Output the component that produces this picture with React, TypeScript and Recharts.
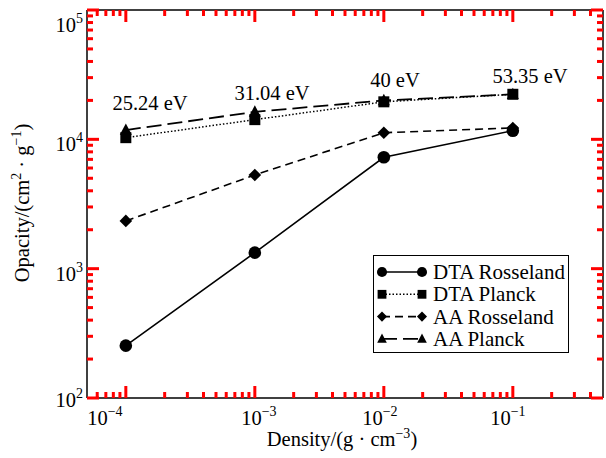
import React from 'react';
import { LineChart, Line, XAxis, YAxis, Legend, ReferenceDot } from 'recharts';

// ---- data ----
const densities = [1e-4, 1e-3, 1e-2, 1e-1];
const dtaRosseland = [254, 1330, 7260, 11660];
const dtaPlanck = [10300, 14200, 19500, 22300];
const aaRosseland = [2340, 5300, 11250, 12250];
const aaPlanck = [11800, 16300, 20000, 22300];

const temperatureLabels = ['25.24 eV', '31.04 eV', '40 eV', '53.35 eV'];
const temperatureLabelDensity = [1.54e-4, 1.358e-3, 1.22e-2, 0.1358];
const temperatureLabelOpacity = [16860, 20140, 25390, 27280];

const xDomain = [5e-5, 0.5];
const yDomain = [1e2, 1e5];
const xDecades = [-5, -4, -3, -2, -1];
const yDecades = [2, 3, 4];

const FONT = "'Liberation Serif', 'Times New Roman', serif";
const FS = 20.5;
const SUP = 14;
const TXT = { fontFamily: FONT, fontSize: FS };

const rows = densities.map((d, i) => ({
  density: d,
  dtaR: dtaRosseland[i],
  dtaP: dtaPlanck[i],
  aaR: aaRosseland[i],
  aaP: aaPlanck[i],
}));

const series = [
  { key: 'dtaR', name: 'DTA Rosseland', dash: undefined as string | undefined, width: 1.6, shape: 'circle' },
  { key: 'dtaP', name: 'DTA Planck', dash: '1.5 2', width: 1.5, shape: 'square' },
  { key: 'aaR', name: 'AA Rosseland', dash: '8 5', width: 1.6, shape: 'diamond' },
  { key: 'aaP', name: 'AA Planck', dash: '15 6', width: 1.8, shape: 'triangle' },
];

function buildTicks(decades: number[], lo: number, hi: number) {
  const out: number[] = [];
  decades.forEach((k) => {
    for (let m = 1; m <= 9; m++) {
      const v = parseFloat((m * Math.pow(10, k)).toPrecision(3));
      if (v > lo * 1.0001 && v < hi * 0.9999) out.push(v);
    }
  });
  return out;
}
const xTicks = buildTicks(xDecades, xDomain[0], xDomain[1]);
const yTicks = [yDomain[0], ...buildTicks(yDecades, yDomain[0], yDomain[1]), yDomain[1]];

const isMajor = (v: number) => Math.abs(Math.log10(v) - Math.round(Math.log10(v))) < 1e-6;
const expOf = (v: number) => Math.round(Math.log10(v));
const fmtExp = (e: number) => (e < 0 ? '\u2212' + Math.abs(e) : String(e));

const MAJOR = 12;
const MINOR = 6;
const TC = 'red';

function TickMark({ x1, y1, x2, y2 }: { x1: number; y1: number; x2: number; y2: number }) {
  return <line x1={x1} y1={y1} x2={x2} y2={y2} stroke={TC} strokeWidth={3} />;
}

const BottomTick = (props: any) => {
  const x = Number(props.x);
  const y = Number(props.y);
  const v = props.payload.value;
  const major = isMajor(v);
  const e = expOf(v);
  const shift: Record<number, number> = { [-4]: -21, [-3]: 4, [-2]: -4, [-1]: -5 };
  return (
    <g>
      <TickMark x1={x} y1={y} x2={x} y2={y - (major ? MAJOR : MINOR)} />
      {major && (
        <text x={x + (shift[e] ?? 0)} y={y + 27} textAnchor="middle" fill="#000" stroke="none" style={TXT}>
          10<tspan dy={-9} style={{ fontSize: SUP }}>{fmtExp(e)}</tspan>
        </text>
      )}
    </g>
  );
};

const TopTick = (props: any) => {
  const x = Number(props.x);
  const y = Number(props.y);
  const major = isMajor(props.payload.value);
  return <TickMark x1={x} y1={y} x2={x} y2={y + (major ? MAJOR : MINOR)} />;
};

const LeftTick = (props: any) => {
  const x = Number(props.x);
  const y = Number(props.y);
  const v = props.payload.value;
  const major = isMajor(v);
  const e = expOf(v);
  const base = e === 5 ? 22 : e === 2 ? 9 : 12;
  return (
    <g>
      <TickMark x1={x} y1={y} x2={x + (major ? MAJOR : MINOR)} y2={y} />
      {major && (
        <text x={x - 4} y={y + base} textAnchor="end" fill="#000" stroke="none" style={TXT}>
          10<tspan dy={-9} style={{ fontSize: SUP }}>{fmtExp(e)}</tspan>
        </text>
      )}
    </g>
  );
};

const RightTick = (props: any) => {
  const x = Number(props.x);
  const y = Number(props.y);
  const major = isMajor(props.payload.value);
  return <TickMark x1={x} y1={y} x2={x - (major ? MAJOR : MINOR)} y2={y} />;
};

function Marker({ shape, cx, cy, s = 1 }: { shape: string; cx: number; cy: number; s?: number }) {
  if (shape === 'circle') return <circle cx={cx} cy={cy} r={6.3 * s} fill="#000" />;
  if (shape === 'square') {
    const h = 5.5 * s;
    return <rect x={cx - h} y={cy - h} width={2 * h} height={2 * h} fill="#000" />;
  }
  if (shape === 'diamond') {
    const h = 6.3 * s;
    return <polygon points={`${cx},${cy - h} ${cx + h},${cy} ${cx},${cy + h} ${cx - h},${cy}`} fill="#000" />;
  }
  const h = 6 * s;
  return <polygon points={`${cx},${cy - h * 1.1} ${cx + h},${cy + h * 0.8} ${cx - h},${cy + h * 0.8}`} fill="#000" />;
}

const makeDot = (shape: string, key: string) => (p: any) => {
  if (p.cx == null || p.cy == null) return <g key={`${key}-${p.index}`} />;
  return (
    <g key={`${key}-${p.index}`}>
      <Marker shape={shape} cx={p.cx} cy={p.cy} />
    </g>
  );
};

const LegendBox = () => (
  <div style={{ border: '1.5px solid #000', background: '#fff', width: 196, height: 98, boxSizing: 'border-box' }}>
    <svg width={193} height={95} style={{ display: 'block' }}>
      {series.map((s, i) => {
        const cy = 16 + i * 22.3;
        return (
          <g key={s.key}>
            <line x1={8} x2={48} y1={cy} y2={cy} stroke="#000" strokeWidth={s.width} strokeDasharray={s.dash} />
            <Marker shape={s.shape} cx={8} cy={cy} s={0.8} />
            <Marker shape={s.shape} cx={48} cy={cy} s={0.8} />
            <text x={59} y={cy + 7} fill="#000" style={{ fontFamily: FONT, fontSize: 21 }}>
              {s.name}
            </text>
          </g>
        );
      })}
    </svg>
  </div>
);

const XTitle = (props: any) => {
  const vb = props.viewBox || {};
  const cx = vb.x + vb.width / 2 - 3;
  const y = vb.y + 48;
  return (
    <text x={cx} y={y} textAnchor="middle" fill="#000" style={TXT}>
      Density/(g · cm<tspan dy={-8} style={{ fontSize: SUP }}>{'\u22123'}</tspan>
      <tspan dy={8}>)</tspan>
    </text>
  );
};

const YTitle = (props: any) => {
  const vb = props.viewBox || {};
  const x = 29;
  const cy = vb.y + vb.height / 2 - 1;
  return (
    <text x={x} y={cy} transform={`rotate(-90 ${x} ${cy})`} textAnchor="middle" fill="#000" style={TXT}>
      Opacity/(cm<tspan dy={-8} style={{ fontSize: SUP }}>2</tspan>
      <tspan dy={8}> · g</tspan>
      <tspan dy={-8} style={{ fontSize: SUP }}>{'\u22121'}</tspan>
      <tspan dy={8}>)</tspan>
    </text>
  );
};

const TempLabel = (text: string) => (p: any) => (
  <text x={p.cx} y={p.cy} textAnchor="middle" fill="#000" style={TXT}>
    {text}
  </text>
);

export default function App() {
  return (
    <div style={{ position: 'absolute', left: 0, top: 0, width: 606, height: 458, background: '#fff' }}>
      <LineChart width={606} height={458} data={rows} margin={{ top: 9, right: 2, bottom: 0, left: 0 }}>
        <XAxis xAxisId="bottom" dataKey="density" type="number" scale="log" domain={xDomain} allowDataOverflow ticks={xTicks} interval={0} height={60} tickSize={0} tickMargin={0} tickLine={false} axisLine={{ stroke: '#000', strokeWidth: 1.5 }} tick={<BottomTick />} label={<XTitle />} />
        <XAxis xAxisId="top" orientation="top" dataKey="density" type="number" scale="log" domain={xDomain} allowDataOverflow ticks={xTicks} interval={0} height={1} tickSize={0} tickMargin={0} tickLine={false} axisLine={{ stroke: '#000', strokeWidth: 1.5 }} tick={<TopTick />} />
        <YAxis yAxisId="left" type="number" scale="log" domain={yDomain} allowDataOverflow ticks={yTicks} interval={0} width={87} tickSize={0} tickMargin={0} tickLine={false} axisLine={{ stroke: '#000', strokeWidth: 1.5 }} tick={<LeftTick />} label={<YTitle />} />
        <YAxis yAxisId="right" orientation="right" type="number" scale="log" domain={yDomain} allowDataOverflow ticks={yTicks} interval={0} width={1} tickSize={0} tickMargin={0} tickLine={false} axisLine={{ stroke: '#000', strokeWidth: 1.5 }} tick={<RightTick />} />
        {series.map((s) => (
          <Line key={s.key} xAxisId="bottom" yAxisId="left" dataKey={s.key} name={s.name} type="linear" stroke="#000" strokeWidth={s.width} strokeDasharray={s.dash} dot={makeDot(s.shape, s.key)} activeDot={false} isAnimationActive={false} />
        ))}
        {temperatureLabels.map((t, i) => (
          <ReferenceDot key={t} xAxisId="bottom" yAxisId="left" x={temperatureLabelDensity[i]} y={temperatureLabelOpacity[i]} r={0} ifOverflow="visible" shape={TempLabel(t)} />
        ))}
        <Legend layout="vertical" verticalAlign="middle" align="center" content={<LegendBox />} wrapperStyle={{ left: 373, top: 255, width: 196, height: 98, margin: 0 }} />
      </LineChart>
    </div>
  );
}
